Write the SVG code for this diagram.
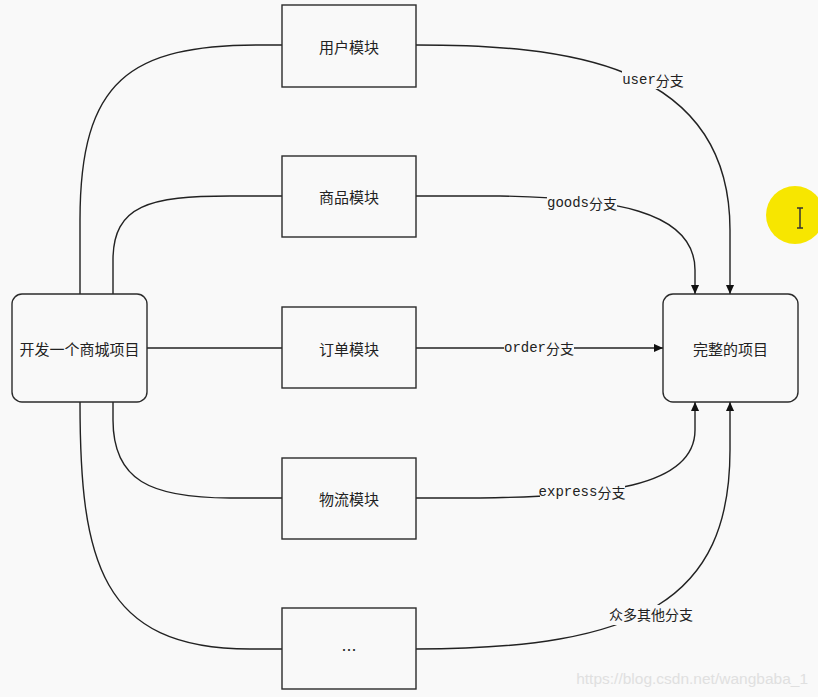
<svg xmlns="http://www.w3.org/2000/svg" width="818" height="697" viewBox="0 0 818 697">
<style>
.bg{fill:#f9f9f9}
.box{fill:#f9f9f9;stroke:#2b2b2b;stroke-width:1.4}
.t{font-family:"Noto Sans CJK SC","Noto Sans",sans-serif;font-size:15px;fill:#222;text-anchor:middle;dominant-baseline:central}
.e{fill:none;stroke:#222;stroke-width:1.4}
.lb{fill:#f9f9f9}
.l{font-family:"Liberation Mono","Noto Sans CJK SC",monospace;font-size:14px;fill:#222;text-anchor:middle;dominant-baseline:central}
.lc{font-family:"Noto Sans CJK SC",sans-serif}
</style>
<defs>
<marker id="ar" viewBox="0 0 10 10" refX="10" refY="5" markerWidth="9" markerHeight="9" markerUnits="userSpaceOnUse" orient="auto">
<path d="M0,0.5 L10,5 L0,9.5 Z" fill="#111"/>
</marker>
</defs>
<rect class="bg" x="0" y="0" width="818" height="697"/>
<g id="connectors">
<path class="e" d="M80,294 L80,220 C80,80 130,45 260,45 L282,45"/>
<path class="e" d="M113,294 L113,260 C113,205 150,196 230,196 L282,196"/>
<path class="e" d="M147,348 L282,348"/>
<path class="e" d="M113,402 L113,420 C113,480 150,498 230,498 L282,498"/>
<path class="e" d="M80,402 C80,560 100,649 250,649 L282,649"/>
<path class="e" d="M416,45 C560,45 730,60 730,230 L730,294" marker-end="url(#ar)"/>
<path class="e" d="M416,196 L500,196 C610,198 695,210 695,270 L695,294" marker-end="url(#ar)"/>
<path class="e" d="M416,348 L663,348" marker-end="url(#ar)"/>
<path class="e" d="M416,498 L480,498 C600,496 695,488 695,430 L695,402" marker-end="url(#ar)"/>
<path class="e" d="M416,649 C640,649 730,600 730,450 L730,402" marker-end="url(#ar)"/>
<rect class="lb" x="622" y="71" width="62" height="18"/>
<text class="l" x="653" y="80">user<tspan class="lc">分支</tspan></text>
<rect class="lb" x="547" y="194" width="70" height="18"/>
<text class="l" x="582" y="203">goods<tspan class="lc">分支</tspan></text>
<rect class="lb" x="504" y="339" width="70" height="18"/>
<text class="l" x="539" y="348">order<tspan class="lc">分支</tspan></text>
<rect class="lb" x="540" y="483" width="85" height="18"/>
<text class="l" x="582" y="492">express<tspan class="lc">分支</tspan></text>
<rect class="lb" x="604" y="605" width="94" height="20"/>
<text class="l lc" x="651" y="614">众多其他分支</text>
</g>
<g id="start">
<rect class="box" x="12" y="294" width="135" height="108" rx="10"/>
<text class="t" x="79.5" y="348">开发一个商城项目</text>
</g>
<g id="user">
<rect class="box" x="282" y="5" width="134" height="82"/>
<text class="t" x="349" y="46">用户模块</text>
</g>
<g id="goods">
<rect class="box" x="282" y="156" width="134" height="81"/>
<text class="t" x="349" y="196">商品模块</text>
</g>
<g id="order">
<rect class="box" x="282" y="307" width="134" height="81"/>
<text class="t" x="349" y="348">订单模块</text>
</g>
<g id="logistics">
<rect class="box" x="282" y="458" width="134" height="81"/>
<text class="t" x="349" y="498">物流模块</text>
</g>
<g id="more">
<rect class="box" x="282" y="608" width="134" height="81"/>
<text class="t" x="349" y="649">…</text>
</g>
<g id="end">
<rect class="box" x="663" y="294" width="135" height="108" rx="10"/>
<text class="t" x="730.5" y="348">完整的项目</text>
</g>
<g id="cursor">
<circle cx="795" cy="215" r="29" fill="#f7e600"/>
<path d="M797,208 L803,208 M800,208 L800,228 M797,228 L803,228" stroke="#333" stroke-width="1.5" fill="none"/>
</g>
<text x="808" y="684" text-anchor="end" font-family="Liberation Sans, sans-serif" font-size="15.5" fill="#e0e0e0">https://blog.csdn.net/wangbaba_1</text>
</svg>
